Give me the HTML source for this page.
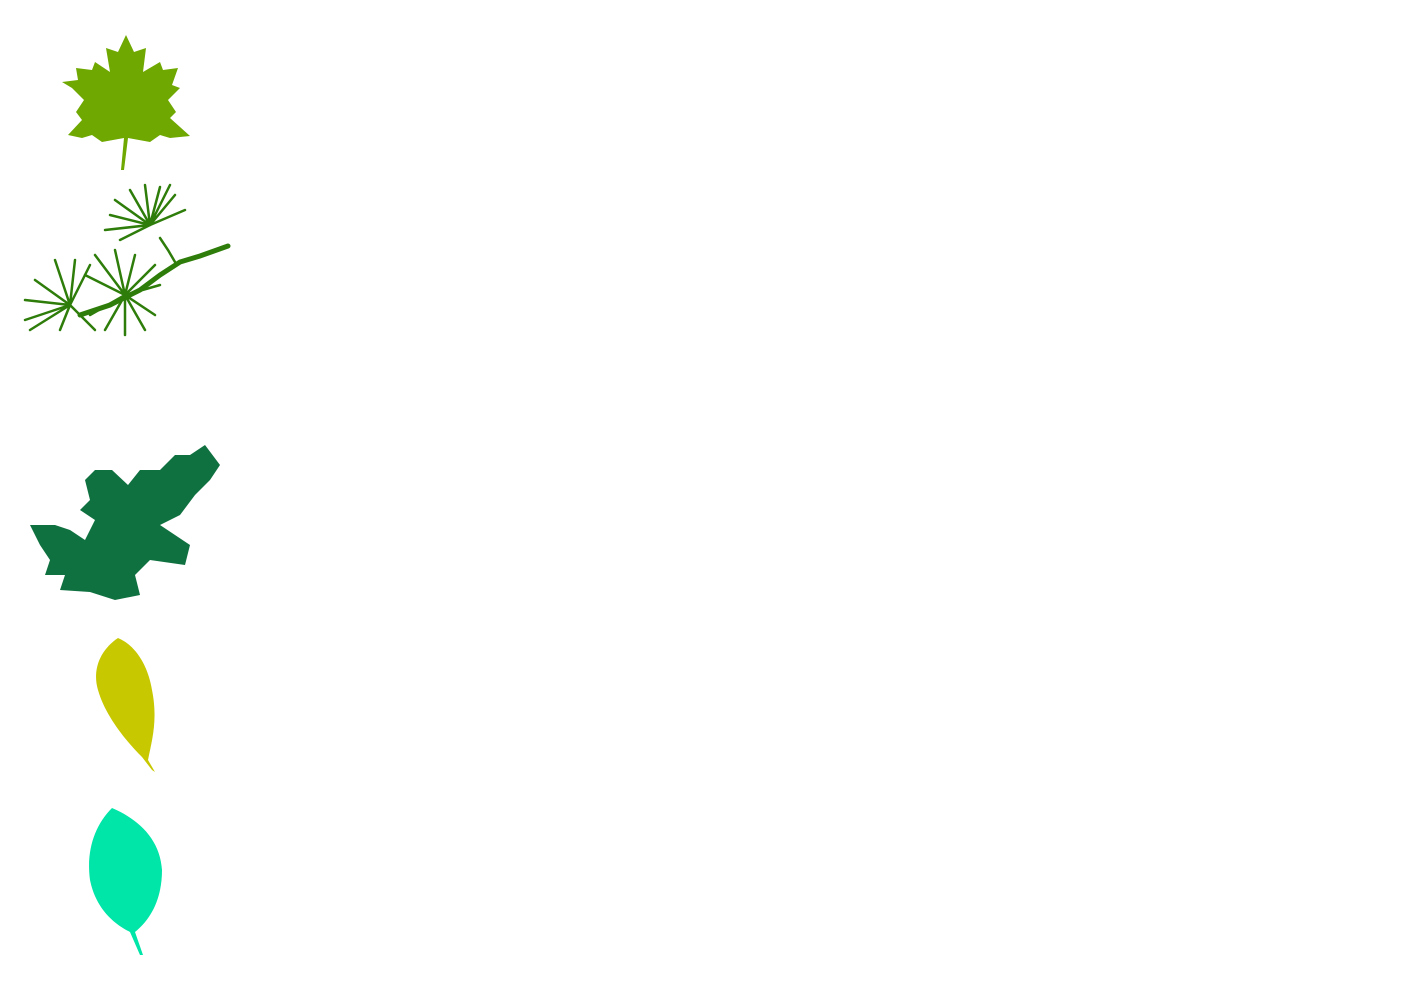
<!DOCTYPE html>
<html><head><meta charset="utf-8"><style>html,body{margin:0;padding:0;background:#fff;width:1415px;height:988px;overflow:hidden}</style></head>
<body>
<svg width="1415" height="988" viewBox="0 0 1415 988" xmlns="http://www.w3.org/2000/svg">
<!-- maple leaf -->
<path fill="#6fa800" d="M126,35 L134,52 L146,48 L143,72 L160,62 L163,70 L178,68 L172,85 L180,88 L168,100 L176,112 L170,118 L190,136 L170,138 L160,135 L150,142 L128,138 L124,170 L121,170 L124,138 L102,142 L92,135 L82,138 L68,135 L82,120 L76,112 L84,100 L72,88 L62,82 L78,80 L76,68 L92,70 L95,62 L110,72 L106,48 L118,52 Z"/>
<!-- pine branch -->
<g stroke="#2e7d0a" stroke-width="2.5" fill="none" stroke-linecap="round">
<path d="M228,246 L200,256 L180,262 L160,275 L140,290 L110,305 L80,315" stroke-width="5"/>
<path d="M175,262 L168,250 L160,238"/>
<g transform="translate(150,225)">
<path d="M0,0 L-40,-10 M0,0 L-35,-25 M0,0 L-20,-35 M0,0 L-5,-40 M0,0 L10,-38 M0,0 L25,-30 M0,0 L35,-15 M0,0 L-45,5 M0,0 L-30,15 M0,0 L20,-40"/></g>
<g transform="translate(125,295)">
<path d="M0,0 L-40,-20 M0,0 L-30,-40 M0,0 L-10,-45 M0,0 L10,-40 M0,0 L30,-30 M0,0 L35,-10 M0,0 L-20,35 M0,0 L0,40 M0,0 L20,35 M0,0 L30,20 M0,0 L-35,20"/></g>
<g transform="translate(70,305)">
<path d="M0,0 L-45,-5 M0,0 L-45,15 M0,0 L-40,25 M0,0 L-35,-25 M0,0 L-15,-45 M0,0 L5,-45 M0,0 L20,-40 M0,0 L25,25 M0,0 L-10,25"/></g>
</g>
<!-- yew branch -->
<g fill="#0f7040">
<path d="M220,465 L205,445 L190,455 L175,455 L160,470 L140,470 L128,485 L112,470 L95,470 L85,480 L90,500 L80,510 L95,520 L85,540 L70,530 L55,525 L30,525 L40,545 L50,560 L45,575 L65,575 L60,590 L90,592 L115,600 L140,595 L135,575 L150,560 L185,565 L190,545 L175,535 L160,525 L180,515 L195,495 L210,480 Z"/>
</g>
<!-- yellow leaf -->
<path fill="#c8c800" d="M118,638 C100,650 92,670 98,690 C105,715 125,740 142,757 L152,770 L155,772 L148,760 C152,740 158,720 152,690 C148,665 135,645 118,638 Z"/>
<!-- teal leaf -->
<path fill="#00e5a8" d="M112,808 C95,825 86,850 90,880 C95,905 110,922 130,932 L140,955 L143,955 L135,932 C150,920 162,900 162,870 C160,840 140,820 112,808 Z"/>
</svg>
</body></html>
